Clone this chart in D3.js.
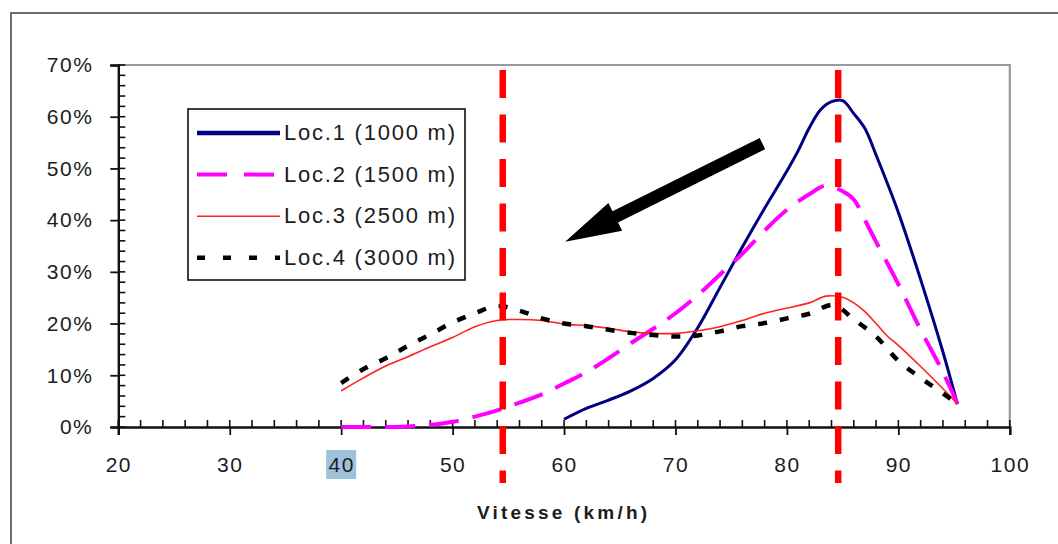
<!DOCTYPE html>
<html>
<head>
<meta charset="utf-8">
<script src="https://cdn.jsdelivr.net/npm/d3@7"></script>
<style>
  html, body { margin: 0; padding: 0; background: #fff; }
  svg { display: block; }
  text { font-family: "Liberation Sans", Arial, sans-serif; }
</style>
</head>
<body>
<svg id="chart" width="1058" height="544"></svg>
<script>
// ---------- data ----------
const seriesNames = ["Loc.1 (1000 m)", "Loc.2 (1500 m)", "Loc.3 (2500 m)", "Loc.4 (3000 m)"];

const loc1Speed = [60, 62, 64, 66, 68, 70, 72, 74, 76, 78, 80, 81, 82, 83, 84, 85, 86, 87, 88, 90, 92, 94, 95.3];
const loc1Pct   = [1.5, 3.6, 5.2, 7.0, 9.4, 13.0, 19.2, 27.0, 34.8, 42.3, 49.5, 53.4, 57.8, 61.3, 62.9, 63.1, 60.6, 57.7, 52.6, 41.5, 28.5, 14.5, 4.4];

const loc2Speed = [40, 42, 44, 46, 48, 50, 52, 54, 56, 58, 60, 62, 64, 66, 68, 70, 72, 74, 76, 78, 80, 82, 83.5, 85, 86, 87, 88, 90, 92, 94, 95.3];
const loc2Pct   = [0, 0, 0, 0.1, 0.4, 1.0, 2.0, 3.2, 4.7, 6.3, 8.4, 10.6, 13.3, 16.2, 19.0, 22.0, 25.5, 29.5, 33.5, 38.0, 42.0, 45.0, 46.7, 45.6, 44.0, 40.0, 35.8, 27.6, 18.8, 10.6, 4.5];

const loc3Speed = [40, 42, 44, 46, 48, 50, 52, 54, 56, 58, 60, 62, 64, 66, 68, 70, 72, 74, 76, 78, 80, 82, 83.5, 85, 86, 87, 88, 89, 90, 92, 94, 95.3];
const loc3Pct   = [7.0, 9.5, 11.8, 13.6, 15.5, 17.3, 19.4, 20.6, 20.8, 20.6, 19.9, 19.6, 19.1, 18.4, 18.1, 18.1, 18.6, 19.4, 20.6, 22.0, 23.0, 24.0, 25.3, 25.1, 24.0, 22.3, 20.0, 17.6, 15.8, 11.7, 7.4, 4.5];

const loc4Speed = [40, 42, 44, 46, 48, 50, 52, 54, 56, 58, 60, 62, 64, 66, 68, 70, 72, 74, 76, 78, 80, 82, 84.2, 86, 88, 90, 92, 94, 95.3];
const loc4Pct   = [8.5, 11.2, 13.3, 15.7, 17.9, 20.2, 22.0, 23.4, 22.5, 21.0, 20.0, 19.5, 18.8, 18.2, 17.8, 17.5, 17.7, 18.5, 19.5, 20.1, 21.0, 21.9, 23.6, 20.8, 17.5, 12.8, 9.5, 6.5, 4.5];

const xTicks = [20, 30, 40, 50, 60, 70, 80, 90, 100];
const yTicks = [0, 10, 20, 30, 40, 50, 60, 70];
const xLabel = "Vitesse (km/h)";
const markerSpeeds = [54.5, 84.6];          // red dashed vertical lines
const arrowFrom = [77.8, 54.8];             // [speed, %]
const arrowTo   = [60.1, 35.8];
const highlightedTick = 40;

// ---------- layout ----------
const svg = d3.select("#chart");
const plot = { left: 118.3, right: 1009.8, top: 65, bottom: 427 };
const x = d3.scaleLinear().domain([20, 100]).range([plot.left, plot.right]);
const y = d3.scaleLinear().domain([0, 70]).range([plot.bottom, plot.top]);

// outer frame
svg.append("rect").attr("x", 11).attr("y", 13).attr("width", 1200).attr("height", 700)
  .attr("fill", "none").attr("stroke", "#4a4a4a").attr("stroke-width", 1.6);

// plot border (top & right, gray)
svg.append("path")
  .attr("d", `M${plot.left},${plot.top}H${plot.right}V${plot.bottom}`)
  .attr("fill", "none").attr("stroke", "#9a9a9a").attr("stroke-width", 2.2);

// highlight behind 40 label
svg.append("rect").attr("x", x(highlightedTick) - 15).attr("y", 450).attr("width", 30).attr("height", 29)
  .attr("fill", "#9fc2dc");

// ---------- axes ----------
const axisColor = "#111";
const labelFont = 21;
// x axis
const xAxisG = svg.append("g").attr("transform", `translate(0,${plot.bottom})`)
  .call(d3.axisBottom(x).tickValues(xTicks).tickSize(8).tickPadding(22).tickFormat(d3.format("d")));
xAxisG.select(".domain").attr("stroke", axisColor).attr("stroke-width", 2.4);
xAxisG.selectAll(".tick line").attr("stroke", axisColor).attr("stroke-width", 1.8);
xAxisG.selectAll(".tick text").attr("font-size", labelFont).attr("letter-spacing", 1.5).attr("fill", "#1c1c1c")
  .attr("font-family", "Liberation Sans, Arial, sans-serif");
// x minor ticks (inside, upward)
const xMinor = d3.range(20, 100.01, 2);
svg.append("g").selectAll("line").data(xMinor).join("line")
  .attr("x1", d => x(d)).attr("x2", d => x(d))
  .attr("y1", plot.bottom).attr("y2", plot.bottom - 7)
  .attr("stroke", axisColor).attr("stroke-width", 1.6);

// y axis
const yAxisG = svg.append("g").attr("transform", `translate(${plot.left},0)`)
  .call(d3.axisLeft(y).tickValues(yTicks).tickSize(8).tickPadding(17).tickFormat(d => d + "%"));
yAxisG.select(".domain").attr("stroke", axisColor).attr("stroke-width", 2.4);
yAxisG.selectAll(".tick line").attr("stroke", axisColor).attr("stroke-width", 1.8);
yAxisG.selectAll(".tick text").attr("font-size", labelFont).attr("letter-spacing", 1.5).attr("fill", "#1c1c1c")
  .attr("font-family", "Liberation Sans, Arial, sans-serif");
const yMinor = d3.range(0, 70.01, 2);
svg.append("g").selectAll("line").data(yMinor).join("line")
  .attr("x1", plot.left).attr("x2", plot.left + 7)
  .attr("y1", d => y(d)).attr("y2", d => y(d))
  .attr("stroke", axisColor).attr("stroke-width", 1.6);

// x axis title
svg.append("text").attr("x", 562).attr("y", 519).attr("text-anchor", "middle")
  .attr("font-size", 19).attr("font-weight", "bold").attr("fill", "#1c1c1c")
  .attr("textLength", 170).attr("lengthAdjust", "spacing")
  .text(xLabel);

// ---------- series ----------
const series = [
  { name: seriesNames[0], xs: loc1Speed, ys: loc1Pct, color: "#000080", width: 3, dash: null, legendWidth: 4.5 },
  { name: seriesNames[1], xs: loc2Speed, ys: loc2Pct, color: "#ff00ff", width: 4, dash: "30,14", legendWidth: 4 },
  { name: seriesNames[2], xs: loc3Speed, ys: loc3Pct, color: "#ff2020", width: 1.6, dash: null, legendWidth: 1.6 },
  { name: seriesNames[3], xs: loc4Speed, ys: loc4Pct, color: "#000000", width: 4.5, dash: "9,13", legendWidth: 4.5 }
];

const line = d3.line().x(d => x(d[0])).y(d => y(d[1])).curve(d3.curveCatmullRom.alpha(0.5));
const seriesG = svg.append("g");
series.forEach(s => {
  const pts = s.xs.map((v, i) => [v, s.ys[i]]);
  seriesG.append("path").attr("d", line(pts))
    .attr("fill", "none").attr("stroke", s.color).attr("stroke-width", s.width)
    .attr("stroke-dasharray", s.dash).attr("stroke-linejoin", "round");
});

// red dashed markers
svg.append("g").selectAll("line").data(markerSpeeds).join("line")
  .attr("x1", d => x(d)).attr("x2", d => x(d))
  .attr("y1", plot.top + 5).attr("y2", plot.bottom + 56)
  .attr("stroke", "#ff0000").attr("stroke-width", 6.5).attr("stroke-dasharray", "28,16.5");

// ---------- arrow ----------
(function drawArrow() {
  const [tx, ty] = [x(arrowFrom[0]), y(arrowFrom[1])];
  const [hx, hy] = [x(arrowTo[0]), y(arrowTo[1])];
  const len = Math.hypot(hx - tx, hy - ty);
  const ux = (hx - tx) / len, uy = (hy - ty) / len;
  const nx = -uy, ny = ux;
  const sw = 6.2, hw = 15.5, hl = 56;
  const bx = hx - ux * hl, by = hy - uy * hl;
  const pts = [
    [tx + nx * sw, ty + ny * sw],
    [bx + nx * sw, by + ny * sw],
    [bx + nx * hw, by + ny * hw],
    [hx, hy],
    [bx - nx * hw, by - ny * hw],
    [bx - nx * sw, by - ny * sw],
    [tx - nx * sw, ty - ny * sw]
  ];
  svg.append("polygon").attr("points", pts.map(p => p.join(",")).join(" ")).attr("fill", "#000");
})();

// ---------- legend ----------
const lg = svg.append("g");
lg.append("rect").attr("x", 188).attr("y", 109).attr("width", 277).attr("height", 171)
  .attr("fill", "#fff").attr("stroke", "#111").attr("stroke-width", 1.6);
series.forEach((s, i) => {
  const cy = 132 + i * 41.6;
  lg.append("line").attr("x1", 197).attr("x2", 280).attr("y1", cy + 1).attr("y2", cy + 1)
    .attr("stroke", s.color).attr("stroke-width", s.legendWidth)
    .attr("stroke-dasharray", s.dash ? (i === 1 ? "30,17" : "8,18") : null);
  lg.append("text").attr("x", 284).attr("y", cy + 8)
    .attr("font-size", 22).attr("fill", "#1c1c1c")
    .attr("textLength", 171).attr("lengthAdjust", "spacing")
    .text(s.name);
});
</script>
</body>
</html>
